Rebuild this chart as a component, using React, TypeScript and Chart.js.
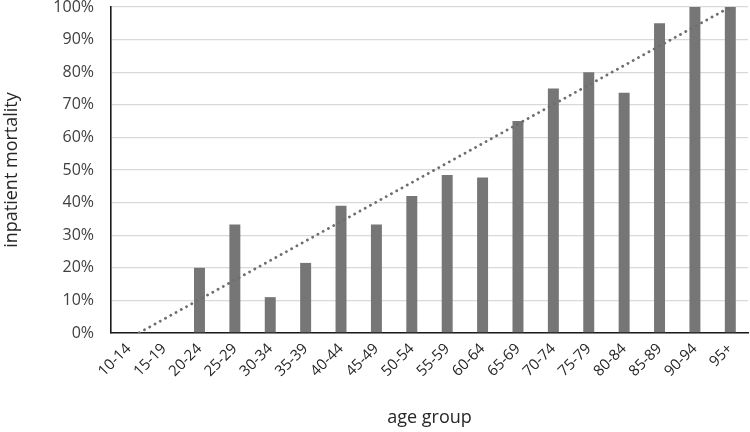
import React, { useEffect, useRef } from "react";
import { Chart, registerables } from "chart.js";

Chart.register(...registerables);

const categories = [
  "10-14", "15-19", "20-24", "25-29", "30-34", "35-39", "40-44", "45-49", "50-54",
  "55-59", "60-64", "65-69", "70-74", "75-79", "80-84", "85-89", "90-94", "95+",
];
const mortality = [0, 0, 20, 33.3, 11, 21.5, 39, 33.3, 42, 48.5, 47.7, 65, 75, 80, 73.7, 95, 100, 100];
// linear trendline: value at first and last category
const trendStart = -1.7;
const trendEnd = 100;
const yTicks = [0, 10, 20, 30, 40, 50, 60, 70, 80, 90, 100];

const FONT = "'Open Sans', sans-serif";

export default function App() {
  const ref = useRef<HTMLCanvasElement | null>(null);
  useEffect(() => {
    if (!ref.current) return;
    const trend = categories.map((_, i) =>
      i === 0 ? trendStart : i === categories.length - 1 ? trendEnd : null
    );
    const chart = new Chart(ref.current, {
      type: "bar",
      data: {
        labels: categories,
        datasets: [
          {
            type: "line",
            data: trend,
            borderColor: "#6e6e6e",
            borderWidth: 2.8,
            borderDash: [0.1, 5.9],
            borderCapStyle: "round",
            pointRadius: 0,
            spanGaps: true,
            fill: false,
            order: 0,
          } as any,
          {
            type: "bar",
            data: mortality,
            backgroundColor: "#767676",
            borderWidth: 0,
            barPercentage: 0.31,
            categoryPercentage: 1,
            order: 1,
          },
        ],
      },
      options: {
        animation: false,
        responsive: false,
        maintainAspectRatio: false,
        layout: { padding: { top: 7, right: 2, left: 0, bottom: 0 } },
        plugins: { legend: { display: false }, tooltip: { enabled: false } },
        scales: {
          x: {
            grid: { display: false, drawTicks: false },
            border: { color: "#1a1a1a", width: 1.6 },
            ticks: {
              color: "#262626",
              font: { family: FONT, size: 15 },
              minRotation: 45,
              maxRotation: 45,
              padding: 7,
              autoSkip: false,
            },
            title: {
              display: true,
              text: "age group",
              color: "#262626",
              font: { family: FONT, size: 18 },
              padding: { top: 0, bottom: 3 },
            },
            afterFit: (s: any) => {
              s.height = 99;
              s.paddingLeft = 0;
              s.paddingRight = 0;
            },
          },
          y: {
            min: 0,
            max: 100,
            afterBuildTicks: (s: any) => {
              s.ticks = yTicks.map((v) => ({ value: v }));
            },
            grid: { color: "#d9d9d9", lineWidth: 1.3, drawTicks: false },
            border: { color: "#1a1a1a", width: 1.6 },
            ticks: {
              color: "#404040",
              font: { family: FONT, size: 16 },
              padding: 17,
              callback: (v: any) => v + "%",
            },
            title: {
              display: true,
              text: "inpatient mortality",
              color: "#262626",
              font: { family: FONT, size: 18 },
              padding: { top: 1, bottom: 0 },
            },
            afterFit: (s: any) => {
              s.width = 111;
              s.paddingTop = 0;
              s.paddingBottom = 0;
            },
          },
        },
      },
    });
    return () => chart.destroy();
  }, []);
  return (
    <div style={{ position: "absolute", left: 0, top: 0, width: 750, height: 432, background: "#fff" }}>
      <canvas ref={ref} width={750} height={432} style={{ width: 750, height: 432 }} />
    </div>
  );
}
